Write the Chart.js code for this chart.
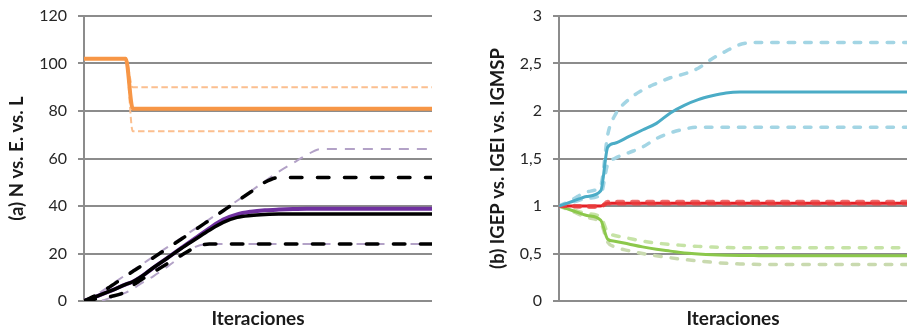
<!DOCTYPE html>
<html>
<head>
<meta charset="utf-8">
<title>N vs. E. vs. L — IGEP vs. IGEI vs. IGMSP</title>
<script src="https://cdn.jsdelivr.net/npm/chart.js@4/dist/chart.umd.min.js"></script>
<style>
  html, body { margin: 0; padding: 0; background: #fff; }
  #wrap { position: relative; width: 907px; height: 330px; overflow: hidden; }
  #chartA { position: absolute; left: 0; top: 0; }
  #chartB { position: absolute; left: 460px; top: 0; }
</style>
</head>
<body>
<div id="wrap">
  <canvas id="chartA" width="460" height="330"></canvas>
  <canvas id="chartB" width="447" height="330"></canvas>
</div>
<script>
// iteraciones (eje x compartido)
const iters = [0, 2, 4, 6, 7, 8, 10, 12, 14, 16, 18, 20, 22, 24, 26, 28, 30, 32, 34, 36, 40, 45, 50];

// (a) N vs. E. vs. L
const nSolid   = [102, 102, 102, 102, 81, 81, 81, 81, 81, 81, 81, 81, 81, 81, 81, 81, 81, 81, 81, 81, 81, 81, 81];
const nHigh    = [102, 102, 102, 102, 90, 90, 90, 90, 90, 90, 90, 90, 90, 90, 90, 90, 90, 90, 90, 90, 90, 90, 90];
const nLow     = [102, 102, 102, 102, 71.5, 71.5, 71.5, 71.5, 71.5, 71.5, 71.5, 71.5, 71.5, 71.5, 71.5, 71.5, 71.5, 71.5, 71.5, 71.5, 71.5, 71.5, 71.5];
const eSolid   = [0, 2.2, 4.5, 7, 8.1, 9.8, 14.1, 18.2, 22.4, 26.5, 30.6, 34.3, 36.5, 37.6, 38.2, 38.5, 38.7, 38.8, 38.8, 38.8, 38.8, 38.8, 38.8];
const eHigh    = [0, 3, 7, 11, 12.9, 14.8, 18.8, 22.7, 26.6, 30.5, 34.4, 38.3, 42.2, 46.3, 50.5, 54.5, 58, 61.5, 64, 64, 64, 64, 64];
const eLow     = [0, 0, 1.5, 3.5, 5, 7, 10.5, 14.5, 18.8, 22.8, 24, 24, 24, 24, 24, 24, 24, 24, 24, 24, 24, 24, 24];
const lSolid   = [0, 2.2, 4.5, 7, 8.1, 9.8, 14.1, 18.1, 22.2, 26, 29.8, 33.1, 35.2, 36, 36.4, 36.6, 36.6, 36.6, 36.6, 36.6, 36.6, 36.6, 36.6];
const lHigh    = [0, 2.8, 6.5, 10.5, 12.4, 14.3, 18.3, 22.2, 26.1, 30, 34, 38, 42, 46, 50, 52, 52, 52, 52, 52, 52, 52, 52];
const lLow     = [0, 1, 2, 4, 6.5, 8.5, 12.2, 15.8, 19.3, 22.5, 24, 24, 24, 24, 24, 24, 24, 24, 24, 24, 24, 24, 24];

// (b) IGEP vs. IGEI vs. IGMSP
const igepSolid  = [1, 1.05, 1.1, 1.16, 1.62, 1.66, 1.73, 1.8, 1.87, 1.98, 2.06, 2.12, 2.16, 2.19, 2.2, 2.2, 2.2, 2.2, 2.2, 2.2, 2.2, 2.2, 2.2];
const igepHigh   = [1, 1.07, 1.15, 1.22, 1.75, 1.95, 2.12, 2.22, 2.29, 2.35, 2.39, 2.45, 2.55, 2.63, 2.7, 2.72, 2.72, 2.72, 2.72, 2.72, 2.72, 2.72, 2.72];
const igepLow    = [1, 1.04, 1.08, 1.12, 1.44, 1.5, 1.56, 1.62, 1.71, 1.77, 1.81, 1.83, 1.83, 1.83, 1.83, 1.83, 1.83, 1.83, 1.83, 1.83, 1.83, 1.83, 1.83];
const igeiSolid  = [1, 1, 1, 1, 1.03, 1.03, 1.03, 1.03, 1.03, 1.03, 1.03, 1.03, 1.03, 1.03, 1.03, 1.03, 1.03, 1.03, 1.03, 1.03, 1.03, 1.03, 1.03];
const igeiHigh   = [1, 0.995, 0.99, 0.99, 1.045, 1.045, 1.045, 1.045, 1.045, 1.045, 1.045, 1.045, 1.045, 1.045, 1.045, 1.045, 1.045, 1.045, 1.045, 1.045, 1.045, 1.045, 1.045];
const igeiLow    = [1, 1, 1, 1, 1.025, 1.025, 1.025, 1.025, 1.025, 1.025, 1.025, 1.025, 1.025, 1.025, 1.025, 1.025, 1.025, 1.025, 1.025, 1.025, 1.025, 1.025, 1.025];
const igmspSolid = [1, 0.95, 0.9, 0.85, 0.65, 0.63, 0.6, 0.57, 0.545, 0.525, 0.505, 0.495, 0.487, 0.482, 0.479, 0.478, 0.477, 0.477, 0.477, 0.477, 0.477, 0.477, 0.477];
const igmspHigh  = [1, 0.96, 0.92, 0.88, 0.72, 0.69, 0.66, 0.63, 0.61, 0.595, 0.585, 0.575, 0.568, 0.563, 0.56, 0.56, 0.56, 0.56, 0.56, 0.56, 0.56, 0.56, 0.56];
const igmspLow   = [1, 0.94, 0.88, 0.82, 0.62, 0.57, 0.53, 0.5, 0.475, 0.455, 0.437, 0.422, 0.408, 0.397, 0.39, 0.386, 0.385, 0.385, 0.385, 0.385, 0.385, 0.385, 0.385];

const GRID = '#8c8c8c';
const FONT = 'Lato';

const pts = (ys) => iters.map((x, i) => ({ x, y: ys[i] }));

// línea continua o discontinua, sin puntos
function line(ys, color, width, order, dash, cap) {
  return {
    data: pts(ys),
    borderColor: color,
    borderWidth: width,
    borderDash: dash || [],
    borderCapStyle: cap || 'butt',
    borderJoinStyle: 'round',
    pointRadius: 0,
    fill: false,
    cubicInterpolationMode: 'monotone',
    order: order,
  };
}

function options(yMax, step, yWidth, padRight, title, titlePad, fmt) {
  return {
    responsive: false,
    animation: false,
    devicePixelRatio: 1,
    layout: { padding: { left: 0, top: 16, right: padRight, bottom: 0 } },
    plugins: { legend: { display: false }, tooltip: { enabled: false } },
    scales: {
      x: {
        type: 'linear', min: 0, max: 50,
        grid: { display: false },
        border: { display: false },
        ticks: { display: false },
        title: {
          display: true, text: 'Iteraciones', color: '#1a1a1a',
          font: { family: FONT, size: 19, weight: 'bold' },
          padding: { top: 0, bottom: 0 },
        },
        afterFit: (s) => { s.height = 29; },
      },
      y: {
        min: 0, max: yMax,
        ticks: {
          stepSize: step, color: '#262626', padding: 11,
          font: { family: FONT, size: 16 },
          callback: fmt,
        },
        grid: { color: GRID, lineWidth: 2, tickLength: 6, drawTicks: true },
        border: { display: true, color: GRID, width: 2 },
        title: {
          display: true, text: title, color: '#1a1a1a',
          font: { family: FONT, size: 18.5, weight: 'bold' },
          padding: { top: titlePad, bottom: 0 },
        },
        // ancho fijo del eje y sin margen extra arriba (lo da layout.padding)
        afterFit: (s) => { s.width = yWidth; s.paddingTop = 0; },
      },
    },
  };
}

new Chart(document.getElementById('chartA'), {
  type: 'line',
  data: {
    datasets: [
      line(lSolid, '#000000', 3.5, 1),
      line(lHigh, '#000000', 3.5, 2, [11.5, 15.5], 'round'),
      line(lLow, '#000000', 3.5, 3, [11.5, 15.5], 'round'),
      line(eSolid, '#7030a0', 4, 4),
      line(eHigh, '#b3a2c7', 2, 5, [10, 8]),
      line(eLow, '#b3a2c7', 2, 6, [10, 8]),
      line(nSolid, '#f79646', 4, 7),
      line(nHigh, '#fbbf8f', 2, 8, [6.5, 3.5]),
      line(nLow, '#fbbf8f', 2, 9, [6.5, 3.5]),
    ],
  },
  options: options(120, 20, 84, 28, '(a) N vs. E. vs. L', 6, (v) => v),
});

new Chart(document.getElementById('chartB'), {
  type: 'line',
  data: {
    datasets: [
      line(igepSolid, '#4bacc6', 3, 1),
      line(igepHigh, '#a3d5e4', 3.5, 4, [6.5, 10], 'round'),
      line(igepLow, '#a3d5e4', 3.5, 5, [6.5, 10], 'round'),
      line(igeiHigh, 'rgba(234,60,60,0.75)', 4, 2, [6, 9], 'round'),
      line(igeiLow, 'rgba(234,60,60,0.6)', 4, 3, [6, 9], 'round'),
      line(igeiSolid, '#e41e26', 3, 6),
      line(igmspSolid, '#8cc84b', 3, 7),
      line(igmspHigh, '#c6e3a6', 3.5, 8, [6.5, 10], 'round'),
      line(igmspLow, '#c9daaf', 3.5, 9, [6.5, 10], 'round'),
    ],
  },
  options: options(3, 0.5, 99, 0, '(b) IGEP vs. IGEI vs. IGMSP', 27, (v) => String(v).replace('.', ',')),
});
</script>
</body>
</html>
